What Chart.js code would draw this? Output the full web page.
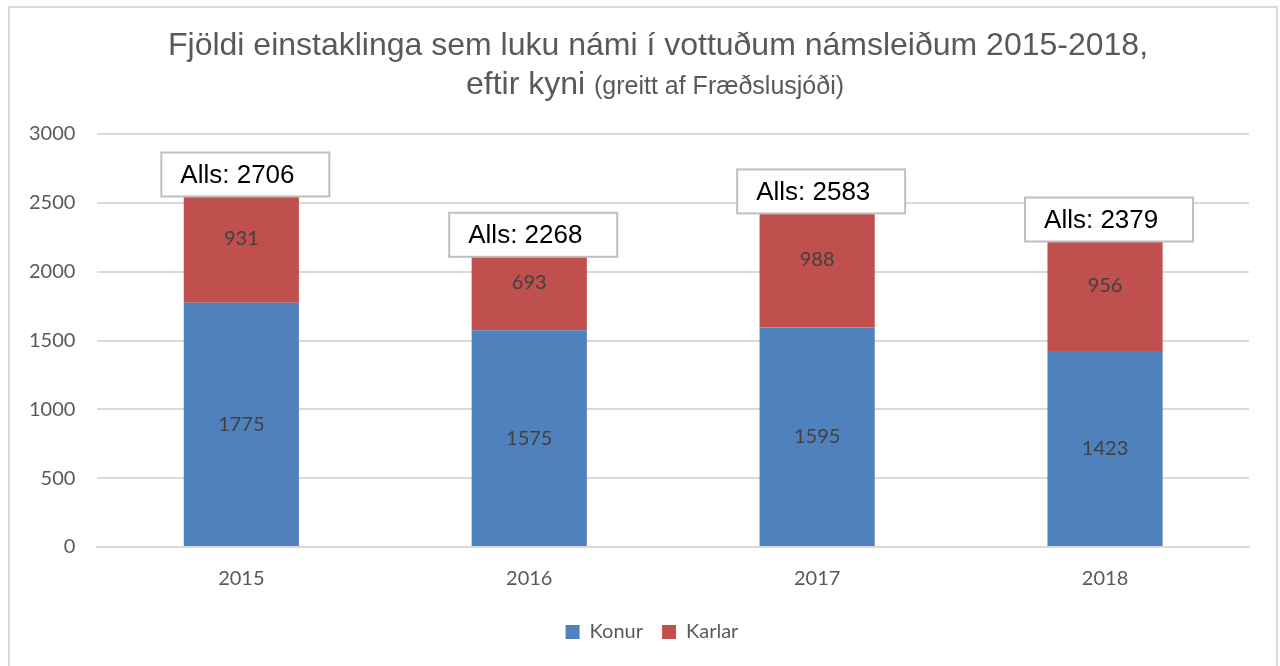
<!DOCTYPE html>
<html>
<head>
<meta charset="utf-8">
<script src="https://cdn.jsdelivr.net/npm/chart.js@4"></script>
<style>
  html, body { margin: 0; padding: 0; background: #fff; }
  #wrap { width: 1280px; height: 666px; }
</style>
</head>
<body>
<div id="wrap"><canvas id="graf" width="1280" height="666"></canvas></div>
<script>
// gögn
const ar = ["2015", "2016", "2017", "2018"];
const konur = [1775, 1575, 1595, 1423];
const karlar = [931, 693, 988, 956];
const alls = [2706, 2268, 2583, 2379];

const tickFont = "Lato, 'Open Sans', sans-serif";
const titleFont = "'Liberation Sans', Arial, sans-serif";

// rammi + titill
const rammi = {
  id: "rammi",
  beforeDraw(chart) {
    const ctx = chart.ctx;
    ctx.save();
    ctx.fillStyle = "#fff";
    ctx.fillRect(0, 0, chart.width, chart.height);
    ctx.strokeStyle = "#d9d9d9";
    ctx.lineWidth = 2;
    ctx.strokeRect(9, 7, 1268, 700);

    ctx.fillStyle = "#595959";
    ctx.textBaseline = "middle";
    ctx.textAlign = "center";
    ctx.font = "32px " + titleFont;
    ctx.fillText("Fjöldi einstaklinga sem luku námi í vottuðum námsleiðum 2015-2018,", 658, 46);

    const a = "eftir kyni ";
    const b = "(greitt af Fræðslusjóði)";
    ctx.font = "32px " + titleFont;
    const wa = ctx.measureText(a).width;
    ctx.font = "25px " + titleFont;
    const wb = ctx.measureText(b).width;
    let x = 655 - (wa + wb) / 2;
    ctx.textAlign = "left";
    ctx.font = "32px " + titleFont;
    ctx.fillText(a, x, 85);
    ctx.font = "25px " + titleFont;
    ctx.fillText(b, x + wa, 87);
    ctx.restore();
  },
  // skýringin er aðeins hægra megin við miðju í frumritinu
  afterLayout(chart) {
    if (chart.legend) {
      chart.legend.left += 24;
      chart.legend.right += 24;
    }
  }
};

// gildi inni í súlum og "Alls" kassar
const merki = {
  id: "merki",
  afterDatasetsDraw(chart) {
    const ctx = chart.ctx;
    ctx.save();
    ctx.textAlign = "center";
    ctx.textBaseline = "middle";
    ctx.font = "20px " + tickFont;
    ctx.fillStyle = "#404040";
    chart.data.datasets.forEach((ds, i) => {
      chart.getDatasetMeta(i).data.forEach((bar, j) => {
        const p = bar.getProps(["x", "y", "base"], true);
        ctx.fillText(ds.data[j], p.x, (p.y + p.base) / 2);
      });
    });

    const ys = chart.scales.y;
    chart.getDatasetMeta(0).data.forEach((bar, j) => {
      const cx = bar.x + 4;
      const cy = ys.getPixelForValue(alls[j]);
      const w = 168, h = 44;
      const l = cx - w / 2, t = cy - h / 2;
      ctx.fillStyle = "#fff";
      ctx.fillRect(l, t, w, h);
      ctx.strokeStyle = "#bfbfbf";
      ctx.lineWidth = 2;
      ctx.strokeRect(l, t, w, h);
      ctx.fillStyle = "#000";
      ctx.textAlign = "left";
      ctx.font = "26px 'Liberation Sans', Arial, sans-serif";
      ctx.fillText("Alls: " + alls[j], l + 19, cy + 1);
    });
    ctx.restore();
  }
};

new Chart(document.getElementById("graf"), {
  type: "bar",
  data: {
    labels: ar,
    datasets: [
      { label: "Konur", data: konur, backgroundColor: "#4f81bd" },
      { label: "Karlar", data: karlar, backgroundColor: "#c0504d" }
    ]
  },
  options: {
    responsive: false,
    animation: false,
    layout: { padding: { top: 134, right: 31, left: 7, bottom: 14 } },
    datasets: { bar: { categoryPercentage: 0.4, barPercentage: 1 } },
    scales: {
      x: {
        stacked: true,
        grid: { display: false },
        border: { color: "#d9d9d9", width: 2 },
        ticks: { color: "#595959", font: { family: tickFont, size: 20 }, padding: 12 }
      },
      y: {
        stacked: true,
        min: 0,
        max: 3000,
        grid: { color: "#d9d9d9", lineWidth: 2, drawTicks: false },
        border: { display: false },
        ticks: {
          stepSize: 500,
          color: "#595959",
          font: { family: tickFont, size: 20 },
          padding: 22,
          callback: v => String(v)
        }
      }
    },
    plugins: {
      legend: {
        position: "bottom",
        labels: {
          color: "#595959",
          font: { family: tickFont, size: 20 },
          boxWidth: 14,
          boxHeight: 14,
          padding: 19
        }
      },
      tooltip: { enabled: false }
    }
  },
  plugins: [rammi, merki]
});
</script>
</body>
</html>
